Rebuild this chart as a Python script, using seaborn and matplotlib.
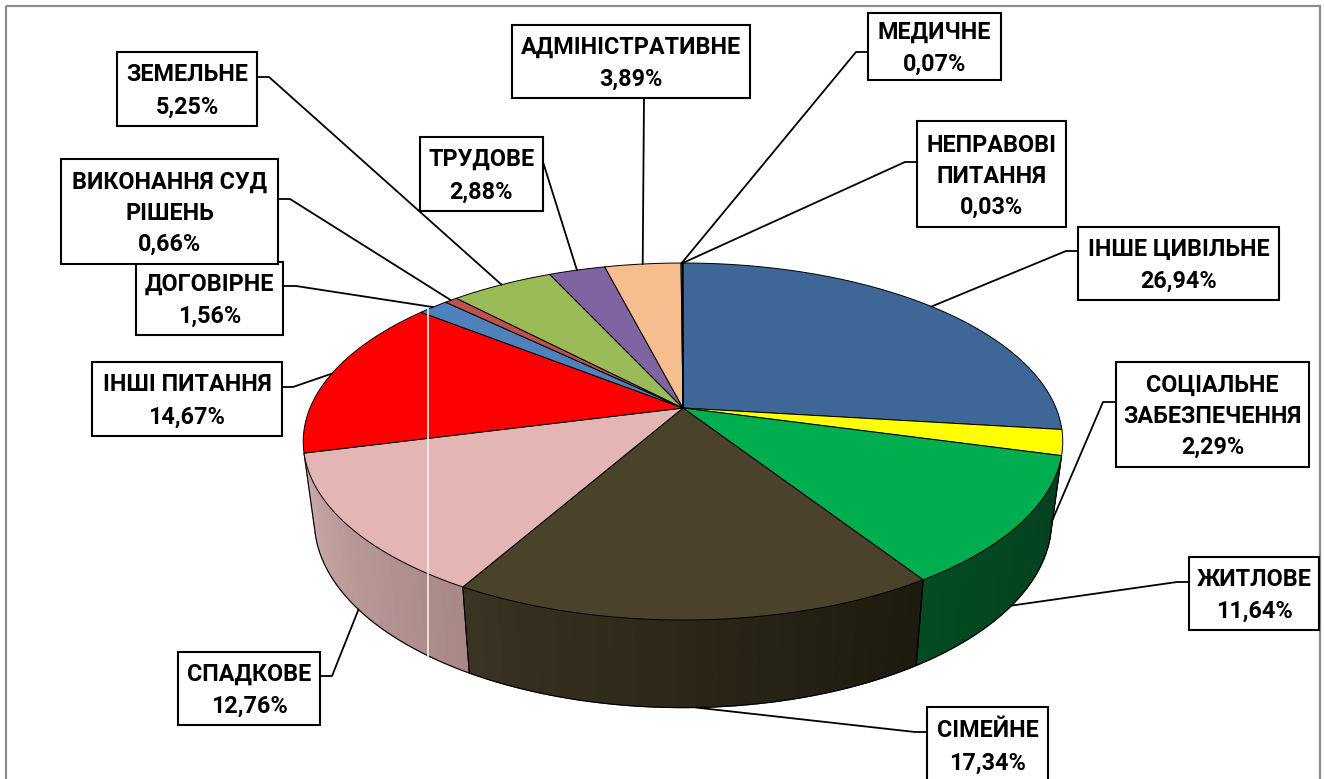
import numpy as np
import matplotlib
matplotlib.use("Agg")
import matplotlib.pyplot as plt
from matplotlib.patches import Rectangle
import seaborn as sns

# slices go clockwise from the top of the pie
names = ["ІНШЕ ЦИВІЛЬНЕ", "СОЦІАЛЬНЕ\nЗАБЕЗПЕЧЕННЯ", "ЖИТЛОВЕ", "СІМЕЙНЕ", "СПАДКОВЕ",
         "ІНШІ ПИТАННЯ", "ДОГОВІРНЕ", "ВИКОНАННЯ СУД\nРІШЕНЬ", "ЗЕМЕЛЬНЕ", "ТРУДОВЕ",
         "АДМІНІСТРАТИВНЕ", "МЕДИЧНЕ", "НЕПРАВОВІ\nПИТАННЯ"]
shares = [26.94, 2.29, 11.64, 17.34, 12.76, 14.67, 1.56, 0.66, 5.25, 2.88, 3.89, 0.07, 0.03]

top_colors = ["#3e6797", "#ffff00", "#00ae4f", "#4a422b", "#e4b5b5", "#ff0000", "#4f81bd",
              "#c0504d", "#9bbb59", "#8064a2", "#f6be8f", "#7a5a3a", "#4a6a8a"]
# only the front slices show a side wall: colour at start and end of the slice
wall_colors = {2: ("#04401e", "#044a22"), 3: ("#1d1a0f", "#3a3222"), 4: ("#a98888", "#c8aaa8")}

# box x0, y0, x1, y1 and the elbow of the leader, in picture pixels
boxes = [(1078, 227, 1279, 300), (1116, 362, 1309, 467), (1189, 557, 1319, 630),
         (927, 707, 1048, 783), (178, 652, 320, 725), (92, 362, 282, 436),
         (136, 262, 283, 335), (61, 159, 278, 264), (117, 52, 257, 126),
         (420, 137, 543, 211), (512, 25, 750, 98), (868, 13, 1001, 80), (917, 121, 1066, 227)]
starts = [(1078, 251), (1116, 402), (1189, 582), (927, 732), (320, 676), (282, 387),
          (283, 286), (278, 199), (257, 77), (543, 162), (644, 98), (868, 52), (917, 162)]
elbows = [(1066, 251), (1103, 402), (1177, 582), (915, 732), (332, 676), (293, 387),
          (296, 286), (290, 199), (269, 77), None, None, (856, 52), (905, 162)]
leader_rim = ["top", "bottom", "bottom", "bottom", "bottom", "top", "top", "top", "top", "top",
              "top", "top", "top"]

sns.set_theme(style="white")
plt.rcParams["font.family"] = ["Roboto", "DejaVu Sans"]

K = 0.1877
RIMS = {"top": (683, 408, 373, 172.2), "bottom": (683, 486, 362, 180)}


def project(angle, rim="top"):
    # circle seen in perspective, angle in degrees clockwise from the top
    a = np.radians(angle)
    u, v = np.sin(a), np.cos(a)
    w = 1 + K * v
    cx, cy, rx, ry = RIMS[rim]
    return cx + rx * u / w, cy - ry * v / w


fig, ax = plt.subplots(figsize=(13.24, 7.79), dpi=100)
ax.set_position([0, 0, 1, 1])
ax.set_xlim(0, 1324)
ax.set_ylim(779, 0)
ax.axis("off")

# picture frame
ax.add_patch(Rectangle((6, 6), 1314, 800, fill=False, ec="#8c8c8c", lw=1.6, zorder=0))

edges = np.cumsum([0] + shares) / sum(shares) * 360
middles = (edges[:-1] + edges[1:]) / 2

# side walls
for i, (c0, c1) in wall_colors.items():
    steps = np.linspace(edges[i], edges[i + 1], 25)
    pal = sns.blend_palette([c0, c1], len(steps) - 1)
    for j in range(len(steps) - 1):
        seg = np.linspace(steps[j], steps[j + 1], 4)
        tx, ty = project(seg, "top")
        bx, by = project(seg[::-1], "bottom")
        ax.fill(np.r_[tx, bx], np.r_[ty, by], facecolor=pal[j], edgecolor=pal[j], lw=0.9, zorder=1)
    seg = np.linspace(edges[i], edges[i + 1], 80)
    ax.plot(*project(seg, "bottom"), color="black", lw=0.8, zorder=2)
    for e in (edges[i], edges[i + 1]):
        ax.plot(*zip(project(e, "top"), project(e, "bottom")), color="black", lw=0.8, zorder=2)

# top face
cx, cy = RIMS["top"][:2]
for i, col in enumerate(top_colors):
    seg = np.linspace(edges[i], edges[i + 1], 100)
    x, y = project(seg, "top")
    ax.fill(np.r_[cx, x], np.r_[cy, y], facecolor=col, edgecolor="black", lw=0.7, zorder=3)

# artefact line of the screenshot
ax.plot([428, 428], [308, 657], color="#f4eeee", lw=1.2, zorder=4)

# leaders and labels
for i, name in enumerate(names):
    pts = [starts[i]]
    if elbows[i] is not None:
        pts.append(elbows[i])
    pts.append(project(middles[i], leader_rim[i]))
    ax.plot(*zip(*pts), color="black", lw=1.3, zorder=5, solid_joinstyle="round")

for i, name in enumerate(names):
    x0, y0, x1, y1 = boxes[i]
    ax.add_patch(Rectangle((x0, y0), x1 - x0, y1 - y0, fc="white", ec="black", lw=1.5, zorder=6))
    label = name + "\n" + f"{shares[i]:.2f}".replace(".", ",") + "%"
    spacing = 1.44 if "\n" in name else 1.53
    ax.text((x0 + x1) / 2, (y0 + y1) / 2 + 2, label, ha="center", va="center", fontsize=16.8,
            fontweight="bold", linespacing=spacing, color="black", zorder=7)

fig.savefig("out.png", dpi=100)
